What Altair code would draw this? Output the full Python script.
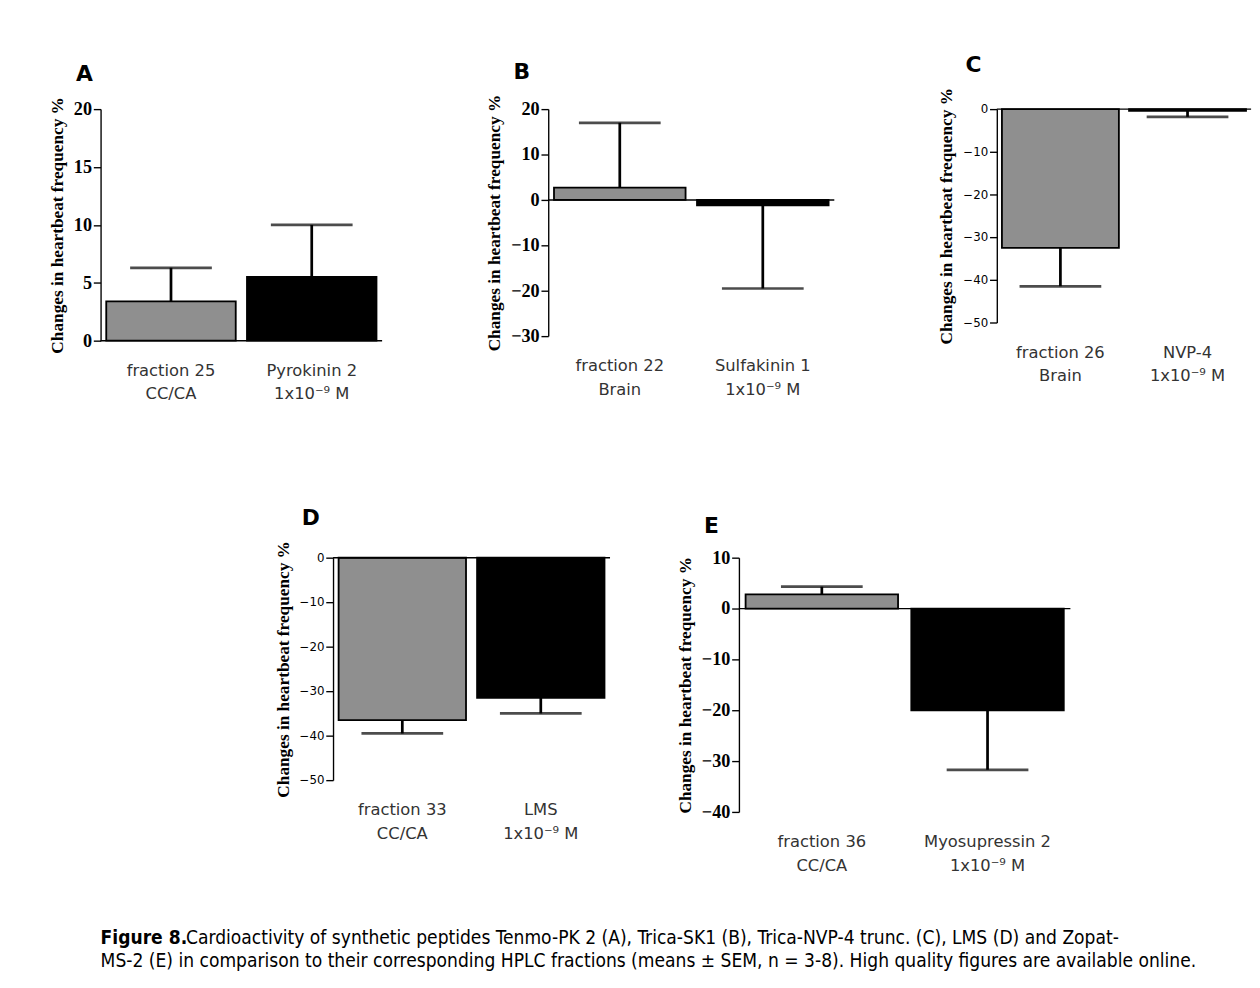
import altair as alt
import pandas as pd

# panel data: category labels, bar means, error-bar ends (mean + SEM)
a_cats = ["fraction 25\nCC/CA", "Pyrokinin 2\n1x10⁻⁹ M"]
a_vals = [3.4, 5.5]
a_errs = [6.3, 10.0]

b_cats = ["fraction 22\nBrain", "Sulfakinin 1\n1x10⁻⁹ M"]
b_vals = [2.7, -1.2]
b_errs = [17.0, -19.5]

c_cats = ["fraction 26\nBrain", "NVP-4\n1x10⁻⁹ M"]
c_vals = [-32.5, -0.4]
c_errs = [-41.5, -1.8]

d_cats = ["fraction 33\nCC/CA", "LMS\n1x10⁻⁹ M"]
d_vals = [-36.5, -31.5]
d_errs = [-39.5, -35.0]

e_cats = ["fraction 36\nCC/CA", "Myosupressin 2\n1x10⁻⁹ M"]
e_vals = [2.8, -20.0]
e_errs = [4.3, -31.7]

YTITLE = "Changes in heartbeat frequency %"


def panel(letter, cats, vals, errs, lo, hi, step, w, h, bold, cap):
    df = pd.DataFrame({"cat": cats, "val": vals, "err": errs,
                       "grp": ["f", "s"]})
    x = alt.X("cat:N", sort=cats, title=None,
              scale=alt.Scale(paddingInner=0.08, paddingOuter=0.04),
              axis=alt.Axis(labelExpr="split(datum.label, '\\n')", labelAngle=0,
                            domain=False, ticks=False, labelFontSize=18,
                            labelFont="DejaVu Sans", labelColor="#333",
                            labelPadding=24, labelLineHeight=26))
    ys = alt.Scale(domain=[lo, hi], nice=False)
    base = alt.Chart(df).encode(x=x)
    bars = base.mark_bar(stroke="black", strokeWidth=2).encode(
        y=alt.Y("val:Q", scale=ys, title=YTITLE,
                axis=alt.Axis(values=list(range(lo, hi + 1, step)), grid=False,
                              domainColor="black", domainWidth=1.5,
                              tickColor="black", tickWidth=1.5, tickSize=8,
                              labelFont="Liberation Serif" if bold else "DejaVu Sans",
                              labelFontWeight="bold" if bold else "normal",
                              labelFontSize=20 if bold else 13, labelColor="black",
                              titleFont="Liberation Serif", titleFontSize=19,
                              titleFontWeight="bold", titleColor="black",
                              titlePadding=8)),
        y2=alt.datum(0),
        color=alt.Color("grp:N", legend=None,
                        scale=alt.Scale(domain=["f", "s"], range=["#8f8f8f", "black"])),
    )
    rule = base.mark_rule(color="black", strokeWidth=3).encode(
        y=alt.Y("val:Q", scale=ys), y2="err:Q")
    caps = base.mark_tick(color="black", thickness=3, size=cap).encode(
        y=alt.Y("err:Q", scale=ys))
    zero = alt.Chart(pd.DataFrame({"z": [0]})).mark_rule(
        color="black", strokeWidth=1.5).encode(y=alt.Y("z:Q", scale=ys))
    return alt.layer(bars, rule, caps, zero).properties(
        width=w, height=h,
        title=alt.TitleParams(letter, anchor="start", font="DejaVu Sans",
                              fontSize=24, fontWeight="bold", offset=12, dx=30))


pa = panel("A", a_cats, a_vals, a_errs, 0, 20, 5, 310, 255, True, 90)
pb = panel("B", b_cats, b_vals, b_errs, -30, 20, 10, 315, 250, True, 90)
pc = panel("C", c_cats, c_vals, c_errs, -50, 0, 10, 280, 235, False, 90)
pd_ = panel("D", d_cats, d_vals, d_errs, -50, 0, 10, 305, 245, False, 90)
pe = panel("E", e_cats, e_vals, e_errs, -40, 10, 10, 365, 280, True, 90)

spacer = alt.Chart(pd.DataFrame({"z": [0]})).mark_point(opacity=0).encode(
    x=alt.value(0)).properties(width=119, height=10)

cap_bold = pd.DataFrame({"t": ["Figure 8."], "px": [0], "py": [14]})
cap_rest = pd.DataFrame({
    "t": ["Cardioactivity of synthetic peptides Tenmo-PK 2 (A), Trica-SK1 (B), Trica-NVP-4 trunc. (C), LMS (D) and Zopat-",
          "MS-2 (E) in comparison to their corresponding HPLC fractions (means ± SEM, n = 3-8). High quality figures are available online."],
    "px": [94, 0], "py": [14, 40]})


def cap_text(df, weight):
    return alt.Chart(df).mark_text(
        align="left", baseline="middle", font="DejaVu Sans Condensed",
        fontSize=21, fontWeight=weight, color="black").encode(
        x=alt.X("px:Q", scale=None), y=alt.Y("py:Q", scale=None), text="t:N")


caption = alt.layer(cap_text(cap_bold, "bold"), cap_text(cap_rest, "normal")).properties(
    width=1000, height=56)

chart = alt.vconcat(
    alt.vconcat(
        alt.hconcat(pa, pb, pc, spacing=113),
        alt.hconcat(spacer, pd_, pe, spacing=72),
        spacing=116),
    alt.hconcat(caption), spacing=57,
).properties(background="white",
             padding={"left": 44, "top": 0, "right": 0, "bottom": 0}
             ).configure_view(stroke=None)

chart.save("out.html", embed_options={"renderer": "svg", "actions": False})
